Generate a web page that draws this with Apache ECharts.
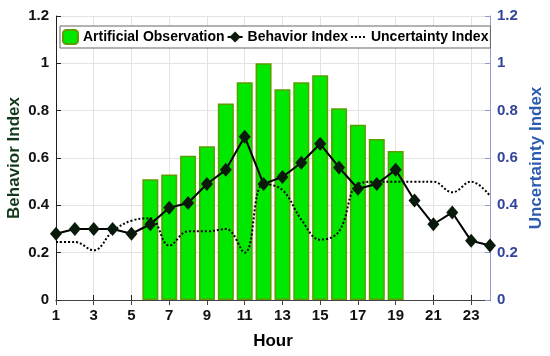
<!DOCTYPE html>
<html><head><meta charset="utf-8">
<script src="https://cdn.jsdelivr.net/npm/echarts@6/dist/echarts.min.js"></script>
<style>html,body{margin:0;padding:0;background:#fff}#c{width:550px;height:356px}</style>
</head><body><div id="c"></div>
<script>
const hours = ['1','2','3','4','5','6','7','8','9','10','11','12','13','14','15','16','17','18','19','20','21','22','23','24'];
const observation = [null,null,null,null,null,0.51,0.53,0.61,0.65,0.83,0.92,1.00,0.89,0.92,0.95,0.81,0.74,0.68,0.63,null,null,null,null,null];
const behavior = [0.28,0.30,0.30,0.30,0.28,0.32,0.39,0.41,0.49,0.55,0.69,0.49,0.52,0.58,0.66,0.56,0.47,0.49,0.55,0.42,0.32,0.37,0.25,0.23];
const uncertainty = [0.245,0.245,0.21,0.29,0.335,0.345,0.23,0.29,0.29,0.30,0.20,0.49,0.465,0.34,0.255,0.29,0.49,0.50,0.50,0.50,0.50,0.455,0.50,0.44];
const yTicks = [0,0.2,0.4,0.6,0.8,1,1.2];

const font = 'Liberation Sans, Arial, sans-serif';
const chart = echarts.init(document.getElementById('c'));
const fmt = v => { const t = yTicks.find(x => Math.abs(x - v) < 1e-6); return t === undefined ? '' : String(t); };
chart.setOption({
  animation: false,
  grid: {left: 56, right: 60, top: 16, bottom: 56, containLabel: false, outerBoundsMode: 'none'},
  legend: {
    left: 60, top: 26, width: 520,
    padding: [3, 2, 3, 2], itemGap: 2,
    borderColor: '#666', borderWidth: 1, backgroundColor: '#fff',
    textStyle: {fontFamily: font, fontWeight: 'bold', fontSize: 14, color: '#000'},
    itemWidth: 15, itemHeight: 14,
    data: [
      {name: 'Artificial Observation'},
      {name: 'Behavior Index'},
      {name: 'Uncertainty Index', itemStyle: {opacity: 0}}
    ]
  },
  xAxis: [{
    type: 'category', data: hours, boundaryGap: false,
    name: 'Hour', nameLocation: 'middle', nameGap: 33,
    nameTextStyle: {fontFamily: font, fontWeight: 'bold', fontSize: 17, color: '#000'},
    axisLine: {lineStyle: {color: '#222', width: 1}},
    axisTick: {inside: true, interval: 1, length: 5, lineStyle: {color: '#222'}},
    axisLabel: {interval: 1, fontFamily: font, fontWeight: 'bold', fontSize: 15, color: '#111', margin: 8},
    splitLine: {show: true, interval: 1, lineStyle: {color: '#e3e3e3'}}
  }, {
    type: 'category', data: hours, boundaryGap: false, position: 'top',
    axisLine: {lineStyle: {color: '#444'}},
    axisTick: {inside: true, interval: 1, length: 5, lineStyle: {color: '#444'}},
    axisLabel: {show: false}, splitLine: {show: false}
  }],
  yAxis: [{
    type: 'value', min: 0, max: 1.2, interval: 0.2,
    name: 'Behavior Index', nameLocation: 'middle', nameGap: 33, nameMoveOverlap: false,
    nameTextStyle: {fontFamily: font, fontWeight: 'bold', fontSize: 17, color: '#14381c'},
    axisLine: {show: true, lineStyle: {color: '#222'}},
    axisTick: {show: true, inside: true, length: 5, lineStyle: {color: '#222'}},
    axisLabel: {formatter: fmt, fontFamily: font, fontWeight: 'bold', fontSize: 15, color: '#111', margin: 7},
    splitLine: {show: true, lineStyle: {color: '#e3e3e3'}}
  }, {
    type: 'value', min: 0, max: 1.2, interval: 0.2, position: 'right',
    name: 'Uncertainty Index', nameLocation: 'middle', nameGap: 38, nameMoveOverlap: false,
    nameTextStyle: {fontFamily: font, fontWeight: 'bold', fontSize: 17, color: '#2c5bb0'},
    axisLine: {show: true, lineStyle: {color: '#8e9cc8'}},
    axisTick: {show: true, inside: true, length: 5, lineStyle: {color: '#8e9cc8'}},
    axisLabel: {formatter: fmt, fontFamily: font, fontWeight: 'bold', fontSize: 15, color: '#33449a', margin: 7},
    splitLine: {show: false}
  }],
  series: [{
    name: 'Artificial Observation', type: 'bar', data: observation, barWidth: 16,
    itemStyle: {color: '#00e800', borderColor: '#5a9e00', borderWidth: 1.5},
    z: 1
  }, {
    name: 'Behavior Index', type: 'line', data: behavior, yAxisIndex: 0,
    symbol: 'diamond', symbolSize: [12, 14], showAllSymbol: true,
    lineStyle: {color: '#000', width: 2}, itemStyle: {color: '#0a1a0a'},
    z: 3
  }, {
    name: 'Uncertainty Index', type: 'line', data: uncertainty, yAxisIndex: 1,
    symbol: 'none', smooth: 0.4,
    lineStyle: {color: '#000', width: 2, type: 'dotted'}, itemStyle: {color: '#000'},
    z: 2
  }]
});
</script></body></html>
